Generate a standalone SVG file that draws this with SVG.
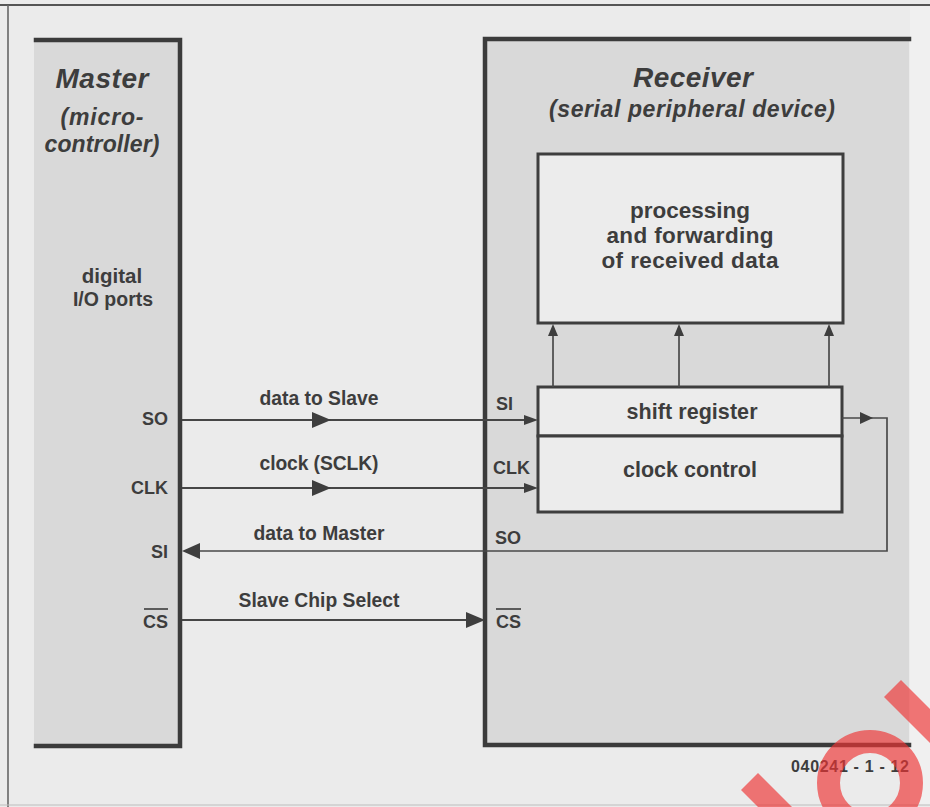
<svg xmlns="http://www.w3.org/2000/svg" width="930" height="807" viewBox="0 0 930 807">
  <defs>
    <style>
      .t { font-family: "Liberation Sans", Arial, sans-serif; font-weight: bold; fill: #3d3d3d; }
      .ti { font-style: italic; }
      .mid { text-anchor: middle; }
      .end { text-anchor: end; }
      .wire { fill: none; stroke: #464646; stroke-width: 2.2; }
      .thin { fill: none; stroke: #4a4a4a; stroke-width: 1.7; }
      .frame { fill: none; stroke: #3b3b3b; stroke-width: 4.5; stroke-linecap: square; }
      .blk { fill: #ececec; stroke: #3e3e3e; stroke-width: 3; }
      .ah { fill: #3e3e3e; }
      .wm { fill: #ee3434; opacity: 0.66; }
    </style>
  </defs>

  <!-- page -->
  <rect x="0" y="0" width="930" height="807" fill="#ebebeb"/>
  <rect x="910" y="6" width="20" height="799" fill="#f0f0f0"/>
  <line x1="0" y1="5" x2="930" y2="5" stroke="#555" stroke-width="1.8"/>
  <line x1="8" y1="5" x2="8" y2="807" stroke="#666" stroke-width="1.6"/>
  <line x1="0" y1="805" x2="930" y2="805" stroke="#bdbdbd" stroke-width="1"/>

  <!-- Master -->
  <g id="master">
    <rect x="34" y="40" width="146" height="706" fill="#d9d9d9"/>
    <polyline class="frame" points="36,40 180,40 180,746 36,746"/>
    <text class="t ti mid" x="102" y="88" font-size="28" textLength="93" lengthAdjust="spacing">Master</text>
    <text class="t ti mid" x="102" y="125" font-size="23" textLength="83" lengthAdjust="spacing">(micro-</text>
    <text class="t ti mid" x="102" y="152" font-size="23" textLength="115" lengthAdjust="spacing">controller)</text>
    <text class="t mid" x="112" y="283" font-size="20.5">digital</text>
    <text class="t mid" x="113" y="306" font-size="19.5">I/O ports</text>
    <text class="t end" x="168" y="425" font-size="18">SO</text>
    <text class="t end" x="168" y="494" font-size="18">CLK</text>
    <text class="t end" x="168" y="558" font-size="18">SI</text>
    <text class="t end" x="168" y="628" font-size="18">CS</text>
    <line x1="144" y1="609" x2="168" y2="609" stroke="#3d3d3d" stroke-width="1.6"/>
  </g>

  <!-- Receiver -->
  <g id="receiver">
    <rect x="485" y="39" width="424" height="706" fill="#d9d9d9"/>
    <polyline class="frame" points="909,39 485,39 485,745 909,745"/>
    <text class="t ti mid" x="693" y="87" font-size="28" textLength="120" lengthAdjust="spacing">Receiver</text>
    <text class="t ti mid" x="692" y="117" font-size="23" textLength="286" lengthAdjust="spacing">(serial peripheral device)</text>
    <text class="t" x="496" y="410" font-size="18">SI</text>
    <text class="t" x="493" y="474" font-size="18">CLK</text>
    <text class="t" x="495" y="544" font-size="18">SO</text>
    <text class="t" x="496" y="628" font-size="18">CS</text>
    <line x1="496" y1="609" x2="521" y2="609" stroke="#3d3d3d" stroke-width="1.6"/>
  </g>

  <!-- processing block -->
  <g id="processing">
    <rect class="blk" x="538" y="154" width="305" height="169"/>
    <text class="t mid" x="690" y="218" font-size="22.5" textLength="120" lengthAdjust="spacing">processing</text>
    <text class="t mid" x="690" y="243" font-size="22.5" textLength="167" lengthAdjust="spacing">and forwarding</text>
    <text class="t mid" x="690" y="268" font-size="22.5" textLength="177" lengthAdjust="spacing">of received data</text>
  </g>

  <!-- shift register -->
  <g id="shift-register">
    <rect class="blk" x="538" y="387" width="304" height="49"/>
    <text class="t mid" x="692" y="419" font-size="21.5" textLength="131" lengthAdjust="spacing">shift register</text>
  </g>

  <!-- clock control -->
  <g id="clock-control">
    <rect class="blk" x="538" y="436" width="304" height="76"/>
    <text class="t mid" x="690" y="477" font-size="21.5" textLength="134" lengthAdjust="spacing">clock control</text>
  </g>

  <!-- signal lines -->
  <g id="connectors">
    <!-- SO -> SI -->
    <line class="wire" x1="182" y1="420" x2="526" y2="420"/>
    <polygon class="ah" points="312,412 331,420 312,428"/>
    <polygon class="ah" points="524,415 538,420 524,425"/>
    <text class="t mid" x="319" y="405" font-size="19.3" textLength="119" lengthAdjust="spacing">data to Slave</text>

    <!-- CLK -->
    <line class="wire" x1="182" y1="488" x2="526" y2="488"/>
    <polygon class="ah" points="312,480 331,488 312,496"/>
    <polygon class="ah" points="524,483 538,488 524,493"/>
    <text class="t mid" x="319" y="470" font-size="19.3" textLength="119" lengthAdjust="spacing">clock (SCLK)</text>

    <!-- shift register out -> SO -> master SI -->
    <polyline class="thin" points="842,418 887,418 887,551 196,551"/>
    <polygon class="ah" points="860,412 873,418 860,424"/>
    <polygon class="ah" points="200,543 182,551 200,559"/>
    <text class="t mid" x="319" y="540" font-size="19.3" textLength="131" lengthAdjust="spacing">data to Master</text>

    <!-- chip select -->
    <line class="wire" x1="182" y1="620" x2="470" y2="620"/>
    <polygon class="ah" points="466,612 485,620 466,628"/>
    <text class="t mid" x="319" y="607" font-size="19.3" textLength="161" lengthAdjust="spacing">Slave Chip Select</text>

    <!-- parallel outputs into processing -->
    <line class="thin" x1="553" y1="387" x2="553" y2="334"/>
    <line class="thin" x1="679" y1="387" x2="679" y2="334"/>
    <line class="thin" x1="829" y1="387" x2="829" y2="334"/>
    <polygon class="ah" points="548,336 553,324 558,336"/>
    <polygon class="ah" points="674,336 679,324 684,336"/>
    <polygon class="ah" points="824,336 829,324 834,336"/>
  </g>

  <text class="t" x="791" y="772" font-size="16" textLength="118" lengthAdjust="spacing">040241 - 1 - 12</text>

  <!-- stamp -->
  <g id="stamp">
    <circle cx="870" cy="783" r="41.5" fill="none" stroke="#ee3434" stroke-width="23" opacity="0.66"/>
    <polygon class="wm" points="741,790 758,773 800,815 783,832"/>
    <polygon class="wm" points="884,697 901,680 950,729 933,746"/>
  </g>
</svg>
